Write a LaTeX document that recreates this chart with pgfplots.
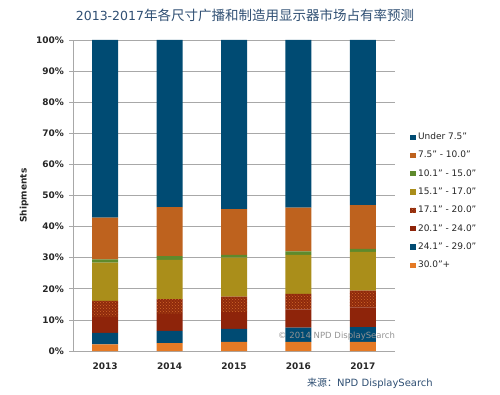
\documentclass[border=0pt]{standalone}
\usepackage{fontspec}
\setmainfont{DejaVu Sans}
\newfontfamily\cjk{Noto Sans CJK SC}
\usepackage{pgfplots}
\pgfplotsset{compat=1.18}
\usepackage{pgfplotstable}
\usetikzlibrary{patterns}
\newcommand\q{\char34\relax}
\definecolor{cUnder}{HTML}{004B73}
\definecolor{cSeven}{HTML}{BE621E}
\definecolor{cTen}{HTML}{5E8A2C}
\definecolor{cFifteen}{HTML}{AA8E1A}
\definecolor{cSeventeen}{HTML}{8F2A0C}
\definecolor{cDots}{HTML}{D2682A}
\definecolor{cTwenty}{HTML}{8E240A}
\definecolor{cTwentyFour}{HTML}{004B73}
\definecolor{cThirty}{HTML}{E57A25}
\definecolor{titlecol}{HTML}{2F4F73}
\definecolor{gridcol}{HTML}{A8A8A8}
\definecolor{tickcol}{HTML}{262626}
\pgfplotstableread{
x  t30  t24  t20  t17  t15  t10  t7   under
0  2.1  3.7  5.2  5.1  12.3 1.1  13.4 57.1
1  2.5  4.0  5.4  4.8  12.6 1.2  15.8 53.7
2  2.9  4.2  5.4  5.0  12.5 0.9  14.7 54.4
3  2.9  4.6  5.9  5.0  12.5 1.1  14.1 53.9
4  2.9  4.8  6.3  5.4  12.5 0.9  14.1 53.1
}\datatable
\begin{document}
\begin{tikzpicture}[x=1pt,y=1pt]
\path[use as bounding box] (0,0) rectangle (500,394);
\begin{axis}[
  at={(73pt,43pt)}, anchor=south west,
  scale only axis, width=322pt, height=311pt,
  ybar stacked, bar width=26pt,
  xmin=-0.5, xmax=4.5, ymin=0, ymax=100,
  xtick={0,1,2,3,4},
  xticklabels={2013,2014,2015,2016,2017},
  ytick={0,10,...,100},
  yticklabel={\pgfmathprintnumber{\tick}\%},
  /pgf/number format/assume math mode=true,
  axis lines*=left,
  axis line style={gridcol, line width=0.8pt},
  ymajorgrids, major grid style={gridcol, line width=0.8pt},
  xtick style={draw=none},
  ytick style={gridcol, line width=0.8pt},
  tick align=outside, major tick length=4pt,
  ticklabel style={font=\bfseries\fontsize{9}{10}\selectfont, text=tickcol},
  yticklabel style={xshift=-1.5pt},
  xticklabel style={yshift=-4pt},
  ylabel={Shipments},
  ylabel style={font=\bfseries\fontsize{9}{10}\selectfont, text=tickcol, at={(axis description cs:-0.152,0.5)}, anchor=center},
  reverse legend,
  legend cell align=left,
  legend image code/.code={\fill[#1] (0pt,-2.6pt) rectangle (5.2pt,2.6pt);},
  legend style={at={(axis description cs:1.047,0.706)}, anchor=north west,
    draw=none, fill=none, inner sep=0pt, row sep=7.3pt,
    font=\fontsize{9}{10}\selectfont, text=tickcol,
    nodes={inner sep=1pt, text height=7pt, text depth=2pt},
    /tikz/every odd column/.append style={column sep=1.5pt}},
]
\addplot[fill=cThirty, draw=none] table[x=x, y=t30] {\datatable};
\addplot[fill=cTwentyFour, draw=none] table[x=x, y=t24] {\datatable};
\addplot[fill=cTwenty, draw=none] table[x=x, y=t20] {\datatable};
\addplot[fill=cSeventeen, draw=none, postaction={pattern=crosshatch dots, pattern color=cDots}] table[x=x, y=t17] {\datatable};
\addplot[fill=cFifteen, draw=none] table[x=x, y=t15] {\datatable};
\addplot[fill=cTen, draw=none] table[x=x, y=t10] {\datatable};
\addplot[fill=cSeven, draw=none] table[x=x, y=t7] {\datatable};
\addplot[fill=cUnder, draw=none] table[x=x, y=under] {\datatable};
\legend{30.0\q+,24.1\q{} - 29.0\q,20.1\q{} - 24.0\q,17.1\q{} - 20.0\q,15.1\q{} - 17.0\q,10.1\q{} - 15.0\q,7.5\q{} - 10.0\q,Under 7.5\q}
\end{axis}
\node[anchor=west, text=gray!85, font=\fontsize{8.5}{10}\selectfont, inner sep=0pt] at (278,58) {\textcopyright{} 2014 NPD DisplaySearch};
\node[text=titlecol, inner sep=0pt] at (245,379) {{\fontsize{12.5}{14}\selectfont 2013-2017}{\cjk\fontsize{13.5}{15}\selectfont 年各尺寸广播和制造用显示器市场占有率预测}};
\node[anchor=east, text=titlecol, inner sep=0pt] at (433,11) {{\cjk\fontsize{10}{12}\selectfont 来源：}{\fontsize{10}{12}\selectfont NPD DisplaySearch}};
\end{tikzpicture}
\end{document}
